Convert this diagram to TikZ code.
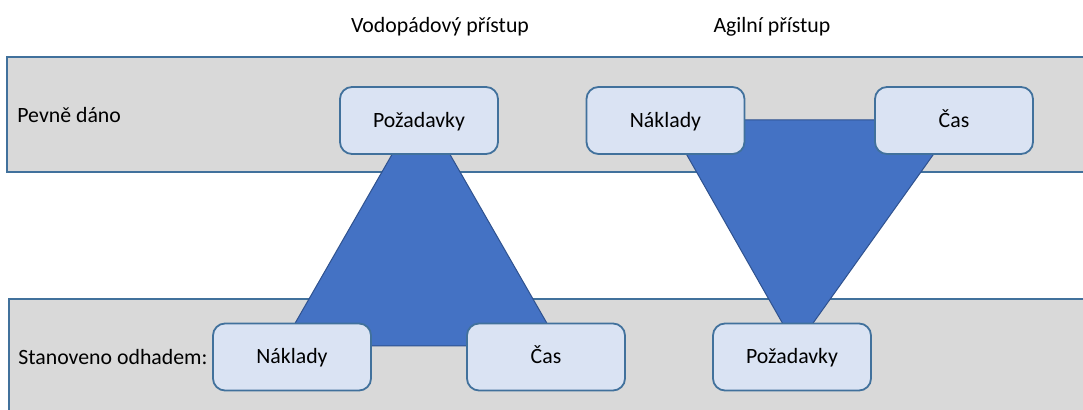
\documentclass[tikz,border=0pt]{standalone}
\usepackage{fontspec}
\setmainfont{Carlito}
\usetikzlibrary{positioning}
\usetikzlibrary{calc}

\definecolor{bandgray}{HTML}{D9D9D9}
\definecolor{bandline}{HTML}{41719C}
\definecolor{boxfill}{HTML}{DAE3F3}
\definecolor{boxline}{HTML}{41719C}
\definecolor{trifill}{HTML}{4472C4}
\definecolor{triline}{HTML}{2F528F}

\tikzset{
    band/.style={fill=bandgray,draw=bandline,line width=0.7pt},
    tri/.style={fill=trifill,draw=triline,line width=0.5pt},
    item/.style={rectangle,rounded corners=6pt,fill=boxfill,draw=boxline,
        line width=0.9pt,minimum width=79pt,minimum height=33.5pt,inner sep=0pt,
        text height=7pt,text depth=0pt},
    label/.style={inner sep=0pt}
}

\begin{document}
\begin{tikzpicture}[x=0.5pt,y=-0.5pt,font=\fontsize{10.9}{13}\selectfont]
        \useasboundingbox (0,0) rectangle (1083,410);
        % Bands
        \draw [band] (7,57) rectangle (1095,172);
        \draw [band] (9,299) rectangle (1095,420);
        % Triangles
        \draw [tri] (421,104) -- (282,346) -- (560,346) -- cycle;
        \draw [tri] (667,120) -- (958,120) -- (796,347) -- cycle;
        % Headings
        \node (waterfall) at (440,33) [label,anchor=base] {Vodopádový přístup};
        \node (agile) at (772,33) [label,anchor=base] {Agilní přístup};
        \node (fixed) at (17,123) [label,anchor=base west] {Pevně dáno};
        \node (estimated) at (18,365) [label,anchor=base west] {Stanoveno odhadem:};
        % Waterfall
        \node (wreq) at (419,120.5) [item] {Požadavky};
        \node (wcost) at (292,357) [item] {Náklady};
        \node (wtime) at (546,357) [item] {Čas};
        % Agile
        \node (acost) at (665.5,120.5) [item] {Náklady};
        \node (atime) at (954,120.5) [item] {Čas};
        \node (areq) at (792,357) [item] {Požadavky};
    \end{tikzpicture}
\end{document}
